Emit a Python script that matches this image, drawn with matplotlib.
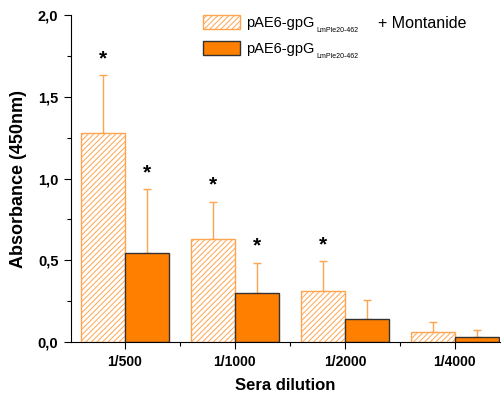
import numpy as np
import matplotlib
matplotlib.use("Agg")
import matplotlib.pyplot as plt
from matplotlib.ticker import FixedLocator, MultipleLocator, FuncFormatter

dilutions = ["1/500", "1/1000", "1/2000", "1/4000"]
montanide_mean = [1.276, 0.630, 0.312, 0.060]
montanide_err = [0.357, 0.228, 0.185, 0.064]
plain_mean = [0.546, 0.298, 0.139, 0.030]
plain_err = [0.390, 0.187, 0.118, 0.042]
montanide_star = [True, True, True, False]
plain_star = [True, True, False, False]

ORANGE = "#FF8000"
LIGHT = "#FFA54F"
EDGE = "#333333"

plt.rcParams["font.family"] = ["Liberation Sans", "DejaVu Sans"]
plt.rcParams["hatch.linewidth"] = 0.7

fig = plt.figure(figsize=(5.02, 3.98), dpi=100)
ax = fig.add_axes([0.1414, 0.1407, 0.8546, 0.8215])

x = np.arange(len(dilutions))
w = 0.4

b1 = ax.bar(x - w / 2, montanide_mean, w, color="white", edgecolor=LIGHT,
            hatch="//////", linewidth=1.0, zorder=2)
b2 = ax.bar(x + w / 2, plain_mean, w, color=ORANGE, edgecolor=EDGE,
            linewidth=1.0, zorder=2)

zeros = np.zeros(len(x))
ax.errorbar(x - w / 2, montanide_mean, yerr=[zeros, montanide_err], fmt="none",
            ecolor=LIGHT, elinewidth=1.0, capsize=3, capthick=1.0, zorder=1)
ax.errorbar(x + w / 2, plain_mean, yerr=[zeros, plain_err], fmt="none",
            ecolor=LIGHT, elinewidth=1.0, capsize=3, capthick=1.0, zorder=1)

# significance marks above the error bars
for i in range(len(x)):
    if montanide_star[i]:
        ax.text(x[i] - w / 2, montanide_mean[i] + montanide_err[i] + 0.1, "*",
                ha="center", va="center", fontsize=15, fontweight="bold")
    if plain_star[i]:
        ax.text(x[i] + w / 2, plain_mean[i] + plain_err[i] + 0.1, "*",
                ha="center", va="center", fontsize=15, fontweight="bold")

ax.set_xlim(-0.49, 3.41)
ax.set_ylim(0, 2.0)
ax.set_xticks(x)
ax.set_xticklabels(dilutions, fontsize=10, fontweight="bold")
ax.xaxis.set_minor_locator(FixedLocator([-0.5, 0.5, 1.5, 2.5]))
ax.yaxis.set_major_locator(MultipleLocator(0.5))
ax.yaxis.set_minor_locator(MultipleLocator(0.25))
ax.yaxis.set_major_formatter(FuncFormatter(lambda v, p: f"{v:.1f}".replace(".", ",")))
for lab in ax.get_yticklabels():
    lab.set_fontweight("bold")
    lab.set_fontsize(10.5)
ax.tick_params(which="major", direction="out", length=5, width=0.8, pad=4)
ax.tick_params(which="minor", direction="out", length=3, width=0.8)
ax.spines["top"].set_visible(False)
ax.spines["right"].set_visible(False)

ax.set_xlabel("Sera dilution", fontsize=12, fontweight="bold", labelpad=7)
ax.set_ylabel("Absorbance (450nm)", fontsize=13, fontweight="bold", labelpad=8)

leg = ax.legend([b1, b2], ["pAE6-gpG", "pAE6-gpG"], loc="upper left",
                bbox_to_anchor=(0.276, 1.04), frameon=False, fontsize=10.5,
                handlelength=2.6, handleheight=1.1, handletextpad=0.4,
                labelspacing=0.75)

fig.canvas.draw()
inv = fig.transFigure.inverted()
for k, t in enumerate(leg.get_texts()):
    bb = t.get_window_extent()
    x0, y0 = inv.transform((bb.x1 + 2, bb.y0 - 4))
    fig.text(x0, y0, "LmPle20-462", fontsize=5, va="bottom", ha="left")
    if k == 0:
        x1, _ = inv.transform((bb.x1 + 63, bb.y0))
        yc = inv.transform((0, (bb.y0 + bb.y1) / 2))[1]
        fig.text(x1, yc, "+ Montanide", fontsize=11.5, va="center", ha="left")

fig.savefig("out.png", dpi=100)
